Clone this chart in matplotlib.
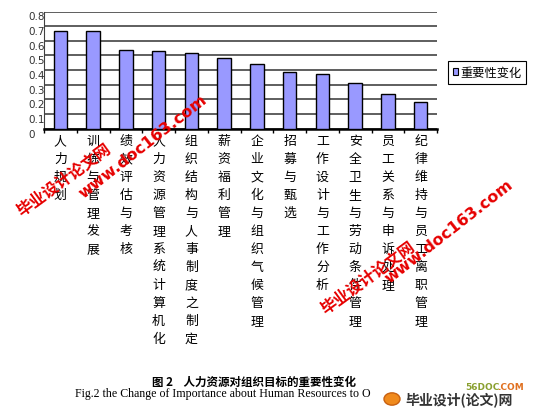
import numpy as np
import matplotlib
matplotlib.use('Agg')
import matplotlib.pyplot as plt
from matplotlib.patches import Patch, Circle
from matplotlib.transforms import ScaledTranslation, blended_transform_factory

plt.rcParams['font.family'] = ['Noto Sans CJK SC', 'DejaVu Sans']

# data
categories = ['人力规划', '训练与管理发展', '绩效评估与考核', '人力资源管理系统计算机化',
              '组织结构与人事制度之制定', '薪资福利管理', '企业文化与组织气候管理',
              '招募与甄选', '工作设计与工作分析', '安全卫生与劳动条件管理',
              '员工关系与申诉处理', '纪律维持与员工离职管理']
importance = [0.67, 0.67, 0.54, 0.53, 0.52, 0.48, 0.44, 0.39, 0.37, 0.31, 0.24, 0.18]
y_ticks = [0, 0.1, 0.2, 0.3, 0.4, 0.5, 0.6, 0.7, 0.8]
y_tick_labels = ['0', '0.1', '0.2', '0.3', '0.4', '0.5', '0.6', '0.7', '0.8']
series_name = '重要性变化'

W, H = 539, 414
fig = plt.figure(figsize=(W / 100, H / 100), dpi=100)
fig.patch.set_facecolor('white')

ax = fig.add_axes([44 / W, 1 - 129.7 / H, 393 / W, 117.2 / H])
x = np.arange(len(categories))
ax.bar(x, importance, width=0.41, color='#9999ff', edgecolor='black', linewidth=1, zorder=3)

ax.set_xlim(-0.5, len(categories) - 0.5)
ax.set_ylim(0, 0.8)
ax.set_yticks(y_ticks)
ax.yaxis.grid(True, color='#333333', linewidth=1.1)
ax.set_axisbelow(True)
ax.tick_params(axis='y', length=0, labelleft=False)
ax.set_xticks(np.arange(-0.5, len(categories), 1))
ax.tick_params(axis='x', direction='out', length=3, width=1, color='black', labelbottom=False)

for s in ['top', 'right']:
    ax.spines[s].set_visible(False)
ax.spines['left'].set_color('#404040')
ax.spines['bottom'].set_color('black')
ax.spines['bottom'].set_linewidth(1.8)

# y labels, left aligned and sitting a bit under each grid line
off = ScaledTranslation(0, -5 / 100, fig.dpi_scale_trans)
for v, lab in zip(y_ticks, y_tick_labels):
    ax.text(-16 / 393, v, lab, transform=ax.get_yaxis_transform() + off,
            ha='left', va='center', fontsize=7.5, color='#333333', family='DejaVu Sans')

# vertical category labels
tr = blended_transform_factory(ax.transData, fig.transFigure)
for i, cat in enumerate(categories):
    ax.text(i, 1 - 135 / H, '\n'.join(cat), transform=tr, ha='center', va='top',
            fontsize=9.3, linespacing=1.5, color='black')

# legend
leg = fig.legend(handles=[Patch(facecolor='#9999ff', edgecolor='black', linewidth=0.8)],
                 labels=[series_name], loc='upper left',
                 bbox_to_anchor=(448 / W, 1 - 62 / H), fontsize=8.8,
                 fancybox=False, framealpha=1, edgecolor='black',
                 handlelength=0.4, handleheight=0.55, handletextpad=0.2,
                 borderpad=0.4, borderaxespad=0)
leg.get_frame().set_linewidth(0.8)

# caption
fig.text(254 / W, 1 - 382 / H, '图 2    人力资源对组织目标的重要性变化', ha='center', va='center',
         fontsize=8.3, fontweight='bold', color='black')
fig.text(75 / W, 1 - 394 / H, 'Fig.2 the Change of Importance about Human Resources to O',
         ha='left', va='center', fontsize=8.6, family='Liberation Serif', color='black')

# watermarks
red = '#e60000'
for cx, cy, cx2, cy2 in [(64, 180, 143, 147), (368, 278, 449, 232)]:
    fig.text(cx / W, 1 - cy / H, '毕业设计论文网', ha='center', va='center', rotation=36,
             fontsize=11.5, fontweight='bold', color=red, zorder=10)
    fig.text(cx2 / W, 1 - cy2 / H, 'www.doc163.com', ha='center', va='center', rotation=38,
             fontsize=11.5, fontweight='bold', color=red, family='DejaVu Sans', zorder=10)

# site logo bottom right
fig.patches.append(Circle((392 / W, 1 - 400 / H), 8 / W, transform=fig.transFigure,
                          facecolor='#f08a1c', edgecolor='#c86010', zorder=10))
fig.text(465 / W, 1 - 388 / H, '56DOC', ha='left', va='center', fontsize=6.5,
         fontweight='bold', color='#8aa030', family='DejaVu Sans')
fig.text(497 / W, 1 - 388 / H, '.COM', ha='left', va='center', fontsize=6.5,
         fontweight='bold', color='#e07020', family='DejaVu Sans')
fig.text(405 / W, 1 - 400 / H, '毕业设计(论文)网', ha='left', va='center', fontsize=10,
         fontweight='bold', color='#333333')

fig.savefig('out.png', dpi=100)
